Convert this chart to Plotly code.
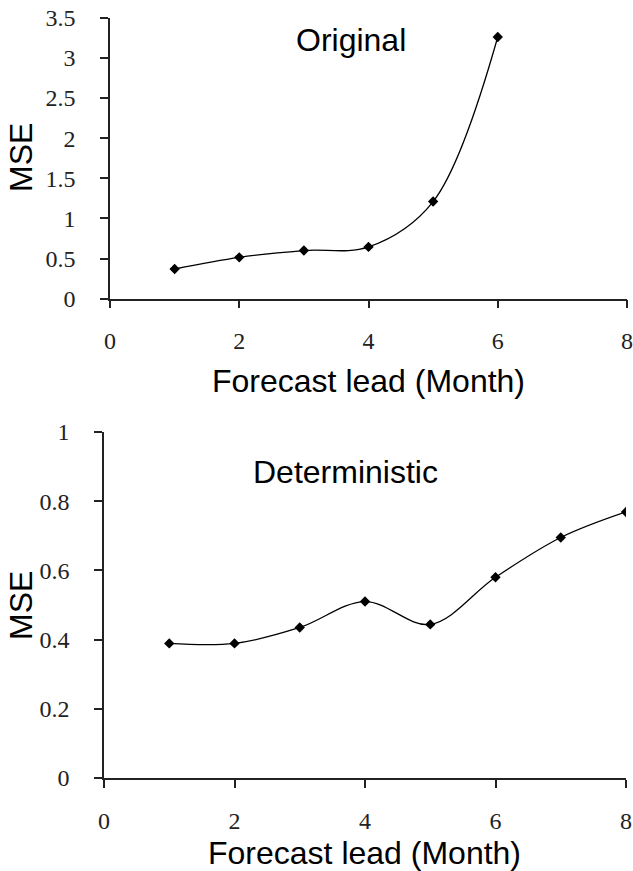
import plotly.graph_objects as go
from plotly.subplots import make_subplots

# Data
lead_orig = [1, 2, 3, 4, 5, 6]
mse_orig = [0.37, 0.515, 0.60, 0.645, 1.21, 3.26]

lead_det = [1, 2, 3, 4, 5, 6, 7, 8]
mse_det = [0.389, 0.389, 0.435, 0.510, 0.444, 0.580, 0.695, 0.769]

x_ticks = [0, 2, 4, 6, 8]
y_ticks_orig = [0, 0.5, 1, 1.5, 2, 2.5, 3, 3.5]
y_ticks_det = [0, 0.2, 0.4, 0.6, 0.8, 1]

W, H = 633, 871
sans = "Liberation Sans, Arial, sans-serif"
serif = "Liberation Serif, Times New Roman, serif"

fig = make_subplots(rows=2, cols=1)

line_style = dict(color="black", width=1.3, shape="spline", smoothing=1)
marker_style = dict(symbol="diamond", size=8, color="black")

fig.add_trace(go.Scatter(x=lead_orig, y=mse_orig, mode="lines+markers",
                         line=line_style, marker=marker_style), row=1, col=1)
fig.add_trace(go.Scatter(x=lead_det, y=mse_det, mode="lines+markers",
                         line=line_style, marker=marker_style), row=2, col=1)

axis_common = dict(showgrid=False, zeroline=False, showline=True,
                   linecolor="#222", linewidth=1.5, ticks="outside",
                   ticklen=8, tickwidth=1.5, tickcolor="#222",
                   automargin=False, ticklabeloverflow="allow",
                   tickfont=dict(family=serif, size=24, color="#222"))

fig.update_xaxes(**axis_common, range=[0, 8], tickvals=x_ticks,
                 ticklabelstandoff=12)
fig.update_yaxes(**axis_common, ticklabelstandoff=20)

# place the two panels by pixel position
fig.update_layout(
    xaxis=dict(domain=[110 / W, 627 / W]),
    yaxis=dict(domain=[1 - 298.7 / H, 1 - 17.7 / H], range=[0, 3.5],
               tickvals=y_ticks_orig),
    xaxis2=dict(domain=[104 / W, 626 / W]),
    yaxis2=dict(domain=[1 - 778 / H, 1 - 432 / H], range=[0, 1],
                tickvals=y_ticks_det),
)

def px_note(text, x, y, angle=0):
    fig.add_annotation(text=text, xref="paper", yref="paper",
                       x=x / W, y=1 - y / H, showarrow=False,
                       xanchor="center", yanchor="middle", textangle=angle,
                       font=dict(family=sans, size=32, color="black"))

px_note("Original", 351, 40)
px_note("Deterministic", 345, 472)
px_note("MSE", 21, 158, -90)
px_note("MSE", 21, 606, -90)
px_note("Forecast lead (Month)", 368, 381)
px_note("Forecast lead (Month)", 364, 853)

fig.update_layout(
    width=W, height=H,
    margin=dict(l=0, r=0, t=0, b=0),
    plot_bgcolor="white", paper_bgcolor="white",
    showlegend=False,
)

# drop the browser's default body margin so the figure fills the window
fig.write_html("out.html", config={"displayModeBar": False},
               post_script="document.body.style.margin='0';")
